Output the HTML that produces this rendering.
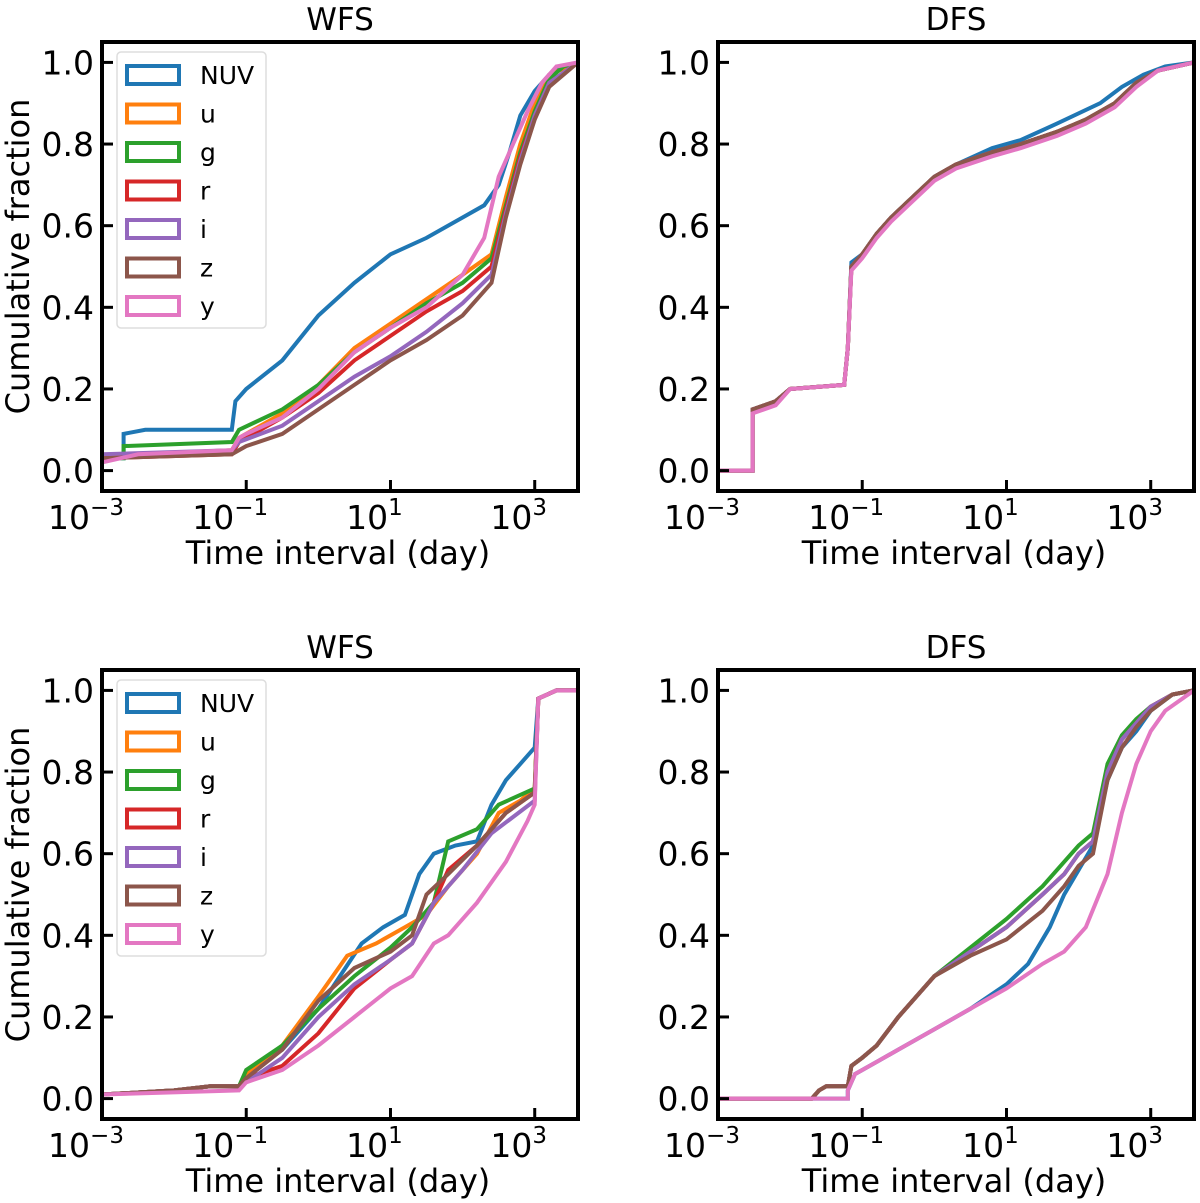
<!DOCTYPE html>
<html><head><meta charset="utf-8"><style>
body{margin:0;background:#fff}
svg{display:block;font-family:"DejaVu Sans","Liberation Sans",sans-serif}
</style></head><body>
<svg id="fig" width="1200" height="1203" xmlns="http://www.w3.org/2000/svg"></svg>
<script>
const seriesNames=["NUV","u","g","r","i","z","y"];
const colors=["#1f77b4","#ff7f0e","#2ca02c","#d62728","#9467bd","#8c564b","#e377c2"];
const xTickExps=[-3,-1,1,3];
const yTicks=[0,0.2,0.4,0.6,0.8,1.0];
// each series: pairs [log10(days), cumulative fraction]
const tlNUV=[[-3,0.03],[-2.7,0.03],[-2.7,0.09],[-2.4,0.1],[-1.2,0.1],[-1.15,0.17],[-1,0.2],[-0.5,0.27],[0,0.38],[0.5,0.46],[1,0.53],[1.5,0.57],[2,0.62],[2.3,0.65],[2.5,0.7],[2.65,0.78],[2.8,0.87],[3,0.93],[3.2,0.97],[3.4,0.99],[3.6,1]];
const tlU=[[-3,0.03],[-2.5,0.04],[-1.2,0.05],[-1.1,0.08],[-0.5,0.14],[0,0.21],[0.5,0.3],[1,0.36],[1.5,0.42],[2,0.48],[2.4,0.53],[2.6,0.67],[2.8,0.8],[3,0.9],[3.2,0.97],[3.6,1]];
const tlG=[[-3,0.03],[-2.7,0.03],[-2.7,0.06],[-1.2,0.07],[-1.1,0.1],[-0.5,0.15],[0,0.21],[0.5,0.29],[1,0.35],[1.5,0.41],[2,0.46],[2.4,0.52],[2.6,0.65],[2.8,0.78],[3,0.88],[3.2,0.96],[3.4,0.99],[3.6,1]];
const tlR=[[-3,0.03],[-1.2,0.04],[-1.1,0.07],[-0.5,0.13],[0,0.19],[0.5,0.27],[1,0.33],[1.5,0.39],[2,0.44],[2.4,0.5],[2.6,0.64],[2.8,0.77],[3,0.87],[3.2,0.95],[3.6,1]];
const tlI=[[-3,0.04],[-1.2,0.05],[-1.1,0.07],[-0.5,0.11],[0,0.17],[0.5,0.23],[1,0.28],[1.5,0.34],[2,0.41],[2.4,0.48],[2.6,0.63],[2.8,0.76],[3,0.87],[3.2,0.95],[3.6,1]];
const tlZ=[[-3,0.03],[-1.2,0.04],[-1,0.06],[-0.5,0.09],[0,0.15],[0.5,0.21],[1,0.27],[1.5,0.32],[2,0.38],[2.4,0.46],[2.6,0.62],[2.8,0.75],[3,0.86],[3.2,0.94],[3.6,1]];
const tlY=[[-3,0.02],[-2.5,0.04],[-1.2,0.05],[-1.1,0.08],[-1,0.09],[-0.5,0.13],[0,0.2],[0.5,0.29],[1,0.35],[1.5,0.4],[2,0.48],[2.3,0.57],[2.5,0.72],[2.7,0.8],[2.9,0.88],[3.1,0.95],[3.3,0.99],[3.6,1]];
const trNUV=[[-3,0],[-2.52,0],[-2.52,0.15],[-2.2,0.17],[-2,0.2],[-1.25,0.21],[-1.2,0.3],[-1.15,0.51],[-1,0.53],[-0.8,0.58],[-0.6,0.62],[-0.3,0.67],[0,0.72],[0.3,0.75],[0.8,0.79],[1.2,0.81],[1.7,0.85],[2.3,0.9],[2.6,0.94],[2.9,0.97],[3.2,0.99],[3.6,1]];
const trBase=[[-3,0],[-2.52,0],[-2.52,0.15],[-2.2,0.17],[-2,0.2],[-1.25,0.21],[-1.2,0.3],[-1.15,0.5],[-1,0.53],[-0.8,0.58],[-0.6,0.62],[-0.3,0.67],[0,0.72],[0.3,0.75],[0.8,0.78],[1.2,0.8],[1.7,0.83],[2.1,0.86],[2.5,0.9],[2.8,0.95],[3.1,0.98],[3.6,1]];
const trY=[[-3,0],[-2.52,0],[-2.52,0.14],[-2.2,0.16],[-2,0.2],[-1.25,0.21],[-1.2,0.3],[-1.15,0.49],[-1,0.52],[-0.8,0.57],[-0.6,0.61],[-0.3,0.66],[0,0.71],[0.3,0.74],[0.8,0.77],[1.2,0.79],[1.7,0.82],[2.1,0.85],[2.5,0.89],[2.8,0.94],[3.1,0.98],[3.6,1]];
const blNUV=[[-3,0.01],[-2,0.02],[-1.5,0.03],[-1.1,0.03],[-1,0.06],[-0.5,0.12],[0,0.22],[0.3,0.3],[0.6,0.38],[0.9,0.42],[1.2,0.45],[1.4,0.55],[1.6,0.6],[1.9,0.62],[2.2,0.63],[2.4,0.72],[2.6,0.78],[2.8,0.82],[3,0.86],[3.05,0.98],[3.3,1],[3.6,1]];
const blU=[[-3,0.01],[-2,0.02],[-1.5,0.03],[-1.1,0.03],[-1,0.06],[-0.5,0.13],[0,0.25],[0.4,0.35],[0.8,0.38],[1.2,0.42],[1.5,0.45],[1.8,0.52],[2.2,0.6],[2.5,0.7],[2.8,0.73],[3,0.76],[3.05,0.98],[3.3,1],[3.6,1]];
const blG=[[-3,0.01],[-2,0.02],[-1.5,0.03],[-1.1,0.03],[-1,0.07],[-0.5,0.13],[0,0.22],[0.5,0.3],[1,0.37],[1.3,0.42],[1.6,0.48],[1.8,0.63],[2.2,0.66],[2.5,0.72],[3,0.76],[3.05,0.98],[3.3,1],[3.6,1]];
const blR=[[-3,0.01],[-2,0.02],[-1.5,0.03],[-1.1,0.03],[-1,0.05],[-0.5,0.08],[0,0.16],[0.5,0.27],[1,0.34],[1.3,0.38],[1.6,0.48],[1.8,0.56],[2.2,0.62],[2.6,0.7],[3,0.75],[3.05,0.98],[3.3,1],[3.6,1]];
const blI=[[-3,0.01],[-2,0.02],[-1.5,0.03],[-1.1,0.03],[-1,0.04],[-0.5,0.1],[0,0.2],[0.5,0.28],[1,0.34],[1.3,0.38],[1.6,0.48],[2,0.56],[2.4,0.65],[3,0.73],[3.05,0.98],[3.3,1],[3.6,1]];
const blZ=[[-3,0.01],[-2,0.02],[-1.5,0.03],[-1.1,0.03],[-1,0.05],[-0.5,0.12],[0,0.24],[0.5,0.32],[1,0.36],[1.3,0.4],[1.5,0.5],[1.8,0.55],[2.2,0.62],[2.6,0.7],[3,0.75],[3.05,0.98],[3.3,1],[3.6,1]];
const blY=[[-3,0.01],[-1.1,0.02],[-1,0.04],[-0.5,0.07],[0,0.13],[0.5,0.2],[1,0.27],[1.3,0.3],[1.6,0.38],[1.8,0.4],[2.2,0.48],[2.6,0.58],[2.9,0.68],[3,0.72],[3.05,0.98],[3.3,1],[3.6,1]];
const brNUV=[[-3,0],[-1.2,0],[-1.2,0.02],[-1.1,0.06],[-0.8,0.09],[-0.5,0.12],[0,0.17],[0.5,0.22],[1,0.28],[1.3,0.33],[1.6,0.42],[1.8,0.5],[2,0.56],[2.2,0.62],[2.4,0.78],[2.6,0.86],[2.8,0.9],[3,0.95],[3.3,0.99],[3.6,1]];
const brBase=[[-3,0],[-1.7,0],[-1.6,0.02],[-1.5,0.03],[-1.2,0.03],[-1.15,0.08],[-1,0.1],[-0.8,0.13],[-0.5,0.2],[0,0.3],[0.5,0.36],[1,0.42],[1.5,0.5],[1.8,0.55],[2,0.6],[2.2,0.63],[2.4,0.8],[2.6,0.88],[2.8,0.92],[3,0.96],[3.3,0.99],[3.6,1]];
const brG=[[-3,0],[-1.7,0],[-1.6,0.02],[-1.5,0.03],[-1.2,0.03],[-1.15,0.08],[-1,0.1],[-0.8,0.13],[-0.5,0.2],[0,0.3],[0.5,0.37],[1,0.44],[1.5,0.52],[1.8,0.58],[2,0.62],[2.2,0.65],[2.4,0.82],[2.6,0.89],[2.8,0.93],[3,0.96],[3.3,0.99],[3.6,1]];
const brZ=[[-3,0],[-1.7,0],[-1.6,0.02],[-1.5,0.03],[-1.2,0.03],[-1.15,0.08],[-1,0.1],[-0.8,0.13],[-0.5,0.2],[0,0.3],[0.5,0.35],[1,0.39],[1.5,0.46],[1.8,0.52],[2,0.57],[2.2,0.6],[2.4,0.78],[2.6,0.86],[2.8,0.91],[3,0.95],[3.3,0.99],[3.6,1]];
const brY=[[-3,0],[-1.2,0],[-1.2,0.02],[-1.1,0.06],[-0.8,0.09],[-0.5,0.12],[0,0.17],[0.5,0.22],[1,0.27],[1.5,0.33],[1.8,0.36],[2.1,0.42],[2.4,0.55],[2.6,0.7],[2.8,0.82],[3,0.9],[3.2,0.95],[3.6,1]];

const panels=[
 {name:"top-left",title:"WFS",L:102,R:578,T:42,B:491,legend:true,ylabel:true,data:[tlNUV,tlU,tlG,tlR,tlI,tlZ,tlY]},
 {name:"top-right",title:"DFS",L:718,R:1194,T:42,B:491,legend:false,ylabel:false,data:[trNUV,trBase,trBase,trBase,trBase,trBase,trY]},
 {name:"bottom-left",title:"WFS",L:102,R:578,T:670,B:1119,legend:true,ylabel:true,data:[blNUV,blU,blG,blR,blI,blZ,blY]},
 {name:"bottom-right",title:"DFS",L:718,R:1194,T:670,B:1119,legend:false,ylabel:false,data:[brNUV,brBase,brG,brBase,brBase,brZ,brY]}
];
const NS="http://www.w3.org/2000/svg";
const svg=document.getElementById('fig');
function mk(tag,attrs,parent){const e=document.createElementNS(NS,tag);for(const k in attrs)e.setAttribute(k,attrs[k]);(parent||svg).appendChild(e);return e;}
panels.forEach((p,pi)=>{
 const g=mk('g',{});
 
 
 const xs=lx=>p.L+(lx+3)/6.6*(p.R-p.L);
 const ys=v=>p.B-(v+0.05)/1.1*(p.B-p.T);
 const cp=mk('clipPath',{id:'clip'+pi},g);
 mk('rect',{x:p.L,y:p.T,width:p.R-p.L,height:p.B-p.T},cp);
 const lines=mk('g',{'clip-path':'url(#clip'+pi+')'},g);
 p.data.forEach((arr,si)=>{
  const pts=arr.map(d=>xs(d[0]).toFixed(1)+','+ys(d[1]).toFixed(1)).join(' ');
  const pl=mk('polyline',{points:pts,fill:'none',stroke:colors[si],'stroke-width':4,'stroke-linejoin':'miter'},lines);
  
  
 });
 yTicks.forEach(v=>{
  const y=ys(v);
  mk('line',{x1:p.L,x2:p.L+11,y1:y,y2:y,stroke:'#000','stroke-width':3},g);
  const t=mk('text',{x:p.L-8,y:y+12,'text-anchor':'end','font-size':33},g);
  t.textContent=v.toFixed(1);
  
  
 });
 xTickExps.forEach(e=>{
  const x=xs(e);
  mk('line',{x1:x,x2:x,y1:p.B,y2:p.B-11,stroke:'#000','stroke-width':3},g);
  const t=mk('text',{x:x-16,y:p.B+38,'text-anchor':'middle','font-size':33},g);
  
  
  const a=mk('tspan',{},t);a.textContent='10';
  const b=mk('tspan',{dy:-14,'font-size':23},t);b.textContent=(e<0?'\u2212':'')+Math.abs(e);
 });
 mk('rect',{x:p.L,y:p.T,width:p.R-p.L,height:p.B-p.T,fill:'none',stroke:'#000','stroke-width':4},g);
 const ti=mk('text',{x:(p.L+p.R)/2,y:p.T-12,'text-anchor':'middle','font-size':31},g);
 ti.textContent=p.title;
 
 
 const xl=mk('text',{x:(p.L+p.R)/2-2,y:p.B+73,'text-anchor':'middle','font-size':32},g);
 xl.textContent='Time interval (day)';
 
 
 if(p.ylabel){
  const cy=(p.T+p.B)/2-10;
  const yl=mk('text',{x:29,y:cy,'text-anchor':'middle','font-size':32,transform:'rotate(-90 29 '+cy+')'},g);
  yl.textContent='Cumulative fraction';
  
  
 }
 if(p.legend){
  const lg=mk('g',{},g);
  
  
  mk('rect',{x:p.L+15,y:p.T+10,width:149,height:276,rx:4,fill:'#fff','fill-opacity':0.8,stroke:'#ddd','stroke-width':1.5},lg);
  seriesNames.forEach((n,i)=>{
   const cy=p.T+33+i*38.5;
   const e=mk('g',{},lg);
   
   
   mk('rect',{x:p.L+25,y:cy-9,width:52,height:18,fill:'none',stroke:colors[i],'stroke-width':4},e);
   const t=mk('text',{x:p.L+98,y:cy+9,'font-size':25},e);
   t.textContent=n;
  });
 }
});
</script>
</body></html>
